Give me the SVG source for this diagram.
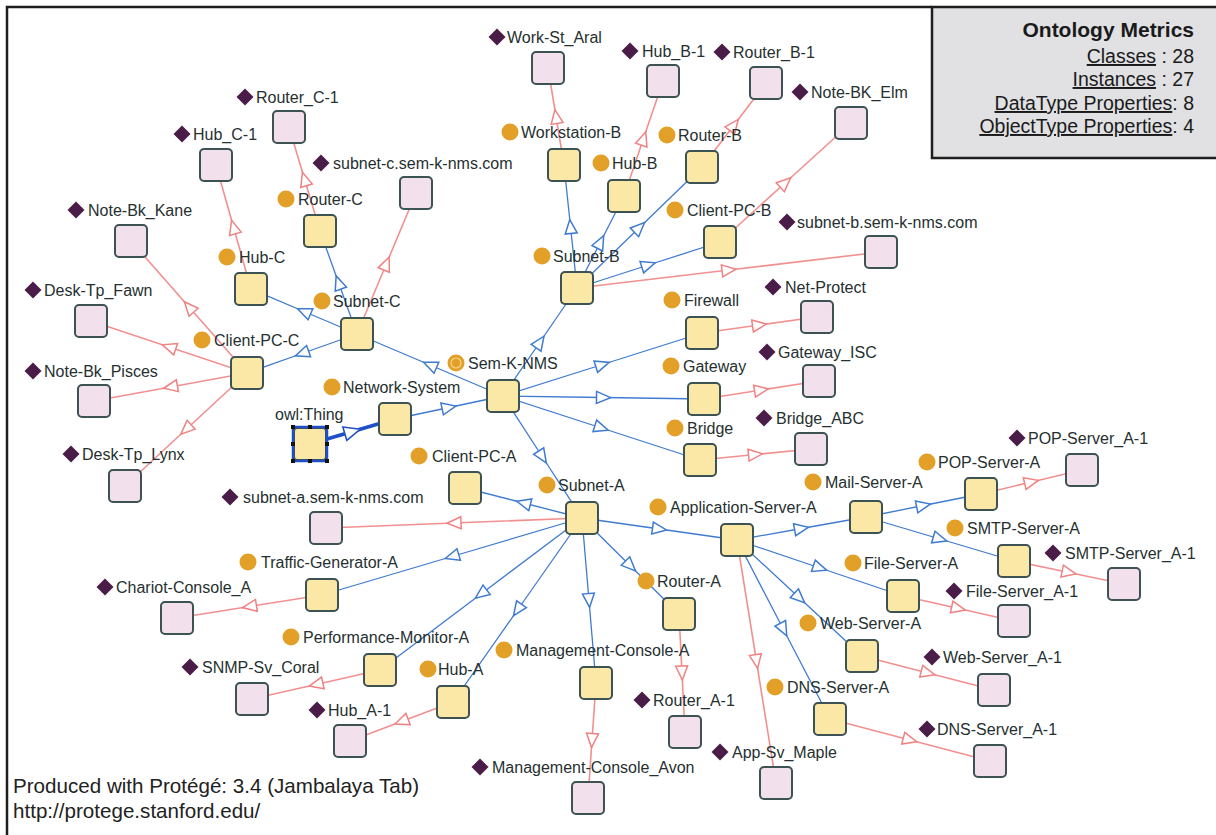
<svg xmlns="http://www.w3.org/2000/svg" xmlns:xlink="http://www.w3.org/1999/xlink" width="1216" height="835" viewBox="0 0 1216 835">
  <style>
    .lbl { font-family: "Liberation Sans", Arial, sans-serif; font-size: 16px; fill: #263030; }
    .foot { font-family: "Liberation Sans", Arial, sans-serif; font-size: 20.6px; fill: #222; }
    .met { font-family: "Liberation Sans", Arial, sans-serif; font-size: 19.5px; fill: #1a1a1a; text-anchor: end; }
    .met-h { font-family: "Liberation Sans", Arial, sans-serif; font-size: 21px; font-weight: bold; fill: #1a1a1a; text-anchor: end; }
    .u { text-decoration: underline; }
    .box-c { fill: #fbe7a6; stroke: #3d5252; stroke-width: 2; }
    .box-i { fill: #f2e0ec; stroke: #3d5252; stroke-width: 2; }
    .dot { fill: #e2a028; }
    .dia { fill: #4a1c48; }
    .sub { fill: none; stroke: #3f7bd0; stroke-width: 1.3; marker-mid: url(#tri-b); }
    .inst { fill: none; stroke: #f29090; stroke-width: 1.6; marker-mid: url(#tri-r); }
  </style>
  <defs>
    <marker id="tri-b" viewBox="-9 -8 18 16" markerWidth="18" markerHeight="16" markerUnits="userSpaceOnUse" orient="auto" refX="0" refY="0">
      <path d="M-7,-6 L7,0 L-7,6 Z" fill="#fff" stroke="#3f7bd0" stroke-width="1.5"/>
    </marker>
    <marker id="tri-r" viewBox="-9 -8 18 16" markerWidth="18" markerHeight="16" markerUnits="userSpaceOnUse" orient="auto" refX="0" refY="0">
      <path d="M-7,-6 L7,0 L-7,6 Z" fill="#fff" stroke="#f08282" stroke-width="1.5"/>
    </marker>
    <marker id="tri-sel" viewBox="-10 -9 20 18" markerWidth="20" markerHeight="18" markerUnits="userSpaceOnUse" orient="auto" refX="0" refY="0">
      <path d="M-8,-7 L8,0 L-8,7 Z" fill="#fff" stroke="#2050c8" stroke-width="1.6"/>
    </marker>
    <path id="dia" d="M-8.5,0 L0,-8.5 L8.5,0 L0,8.5 Z"/>
  </defs>

  <rect width="1216" height="835" fill="#fff"/>

  <!-- outer frame -->
  <path d="M7,835 L7,7 L932,7" fill="none" stroke="#1e1e1e" stroke-width="2.5"/>

  <!-- metrics panel -->
  <g id="metrics">
    <rect x="932" y="7" width="290" height="151" fill="#e1e1e3" stroke="#1e1e1e" stroke-width="2.5"/>
    <text class="met-h" x="1194" y="37">Ontology Metrics</text>
    <text class="met" x="1194" y="63"><tspan class="u">Classes</tspan> : 28</text>
    <text class="met" x="1194" y="86"><tspan class="u">Instances</tspan> : 27</text>
    <text class="met" x="1194" y="110"><tspan class="u">DataType Properties</tspan>: 8</text>
    <text class="met" x="1194" y="133"><tspan class="u">ObjectType Properties</tspan>: 4</text>
  </g>

  <g id="connectors">
    <!-- subclass links -->
    <path d="M310,444 L352.5,431.5 L395,419" fill="none" stroke="#2050c8" stroke-width="3.5" marker-mid="url(#tri-sel)"/>
    <path class="sub" d="M395,419 L449,407.5 L503,396"/>
    <path class="sub" d="M503,396 L430,365 L357,334"/>
    <path class="sub" d="M503,396 L540,342 L577,288"/>
    <path class="sub" d="M503,396 L542.5,457 L582,518"/>
    <path class="sub" d="M503,396 L602.5,364.5 L702,333"/>
    <path class="sub" d="M503,396 L603.5,397.5 L704,399"/>
    <path class="sub" d="M503,396 L601.5,428 L700,460"/>
    <path class="sub" d="M357,334 L302,353.5 L247,373"/>
    <path class="sub" d="M357,334 L304,311.5 L251,289"/>
    <path class="sub" d="M357,334 L338.5,282.5 L320,231"/>
    <path class="sub" d="M577,288 L570.5,226.5 L564,165"/>
    <path class="sub" d="M577,288 L600.5,242 L624,196"/>
    <path class="sub" d="M577,288 L639.5,227.5 L702,167"/>
    <path class="sub" d="M577,288 L648.5,265 L720,242"/>
    <path class="sub" d="M582,518 L523.5,503 L465,488"/>
    <path class="sub" d="M582,518 L659.5,529 L737,540"/>
    <path class="sub" d="M582,518 L630.5,566 L679,614"/>
    <path class="sub" d="M582,518 L589,600.5 L596,683"/>
    <path class="sub" d="M582,518 L517.5,610 L453,702"/>
    <path class="sub" d="M582,518 L481,594 L380,670"/>
    <path class="sub" d="M582,518 L452,556.5 L322,595"/>
    <path class="sub" d="M737,540 L801.5,528.5 L866,517"/>
    <path class="sub" d="M737,540 L820,568 L903,596"/>
    <path class="sub" d="M737,540 L799.5,598 L862,656"/>
    <path class="sub" d="M737,540 L783.5,629.5 L830,719"/>
    <path class="sub" d="M866,517 L923.5,505.5 L981,494"/>
    <path class="sub" d="M866,517 L940,539 L1014,561"/>
    <!-- instance links -->
    <path class="inst" d="M320,231 L304.5,179 L289,127"/>
    <path class="inst" d="M251,289 L233.5,227 L216,165"/>
    <path class="inst" d="M357,334 L386.5,263.5 L416,193"/>
    <path class="inst" d="M247,373 L189,307 L131,241"/>
    <path class="inst" d="M247,373 L169,347 L91,321"/>
    <path class="inst" d="M247,373 L170.5,387 L94,401"/>
    <path class="inst" d="M247,373 L186,429.5 L125,486"/>
    <path class="inst" d="M564,165 L556,116.5 L548,68"/>
    <path class="inst" d="M624,196 L643.5,138.5 L663,81"/>
    <path class="inst" d="M702,167 L734,125 L766,83"/>
    <path class="inst" d="M720,242 L785.5,182.5 L851,123"/>
    <path class="inst" d="M577,288 L729,270 L881,252"/>
    <path class="inst" d="M702,333 L759.5,325 L817,317"/>
    <path class="inst" d="M704,399 L761.5,390 L819,381"/>
    <path class="inst" d="M700,460 L755.5,454.5 L811,449"/>
    <path class="inst" d="M582,518 L454,523 L326,528"/>
    <path class="inst" d="M322,595 L249.5,606.5 L177,618"/>
    <path class="inst" d="M380,670 L316,684.5 L252,699"/>
    <path class="inst" d="M453,702 L401.5,721.5 L350,741"/>
    <path class="inst" d="M596,683 L592,740.5 L588,798"/>
    <path class="inst" d="M679,614 L682,673 L685,732"/>
    <path class="inst" d="M737,540 L756.5,661.5 L776,783"/>
    <path class="inst" d="M981,494 L1031.5,482 L1082,470"/>
    <path class="inst" d="M1014,561 L1069,572.5 L1124,584"/>
    <path class="inst" d="M903,596 L958.5,608.5 L1014,621"/>
    <path class="inst" d="M862,656 L928,673 L994,690"/>
    <path class="inst" d="M830,719 L910,740 L990,761"/>
  </g>

  <!-- class nodes -->
  <g id="owl-thing">
    <rect class="box-c" x="294" y="428" width="32" height="32" rx="3"/>
    <rect x="293" y="427" width="34" height="34" fill="none" stroke="#2050c8" stroke-width="2.5"/>
    <g fill="#111">
      <rect x="291" y="425" width="4" height="4"/><rect x="308" y="425" width="4" height="4"/><rect x="325" y="425" width="4" height="4"/>
      <rect x="291" y="442" width="4" height="4"/><rect x="325" y="442" width="4" height="4"/>
      <rect x="291" y="459" width="4" height="4"/><rect x="308" y="459" width="4" height="4"/><rect x="325" y="459" width="4" height="4"/>
    </g>
    <text class="lbl" x="275" y="420">owl:Thing</text>
  </g>
  <g id="network-system"><rect class="box-c" x="379" y="403" width="32" height="32" rx="4"/><circle class="dot" cx="332" cy="387" r="8.5"/><text class="lbl" x="343" y="393">Network-System</text></g>
  <g id="sem-k-nms"><rect class="box-c" x="487" y="380" width="32" height="32" rx="4"/><circle class="dot" cx="456" cy="363" r="8.5"/><circle cx="456" cy="363" r="5" fill="none" stroke="#f6d48e" stroke-width="1.2"/><text class="lbl" x="468" y="369">Sem-K-NMS</text></g>
  <g id="subnet-c"><rect class="box-c" x="341" y="318" width="32" height="32" rx="4"/><circle class="dot" cx="322" cy="301" r="8.5"/><text class="lbl" x="333" y="307">Subnet-C</text></g>
  <g id="subnet-b"><rect class="box-c" x="561" y="272" width="32" height="32" rx="4"/><circle class="dot" cx="542" cy="256" r="8.5"/><text class="lbl" x="553" y="262">Subnet-B</text></g>
  <g id="subnet-a"><rect class="box-c" x="566" y="502" width="32" height="32" rx="4"/><circle class="dot" cx="547" cy="485" r="8.5"/><text class="lbl" x="558" y="491">Subnet-A</text></g>
  <g id="client-pc-c"><rect class="box-c" x="231" y="357" width="32" height="32" rx="4"/><circle class="dot" cx="202" cy="340" r="8.5"/><text class="lbl" x="214" y="346">Client-PC-C</text></g>
  <g id="hub-c"><rect class="box-c" x="235" y="273" width="32" height="32" rx="4"/><circle class="dot" cx="227" cy="257" r="8.5"/><text class="lbl" x="239" y="263">Hub-C</text></g>
  <g id="router-c"><rect class="box-c" x="304" y="215" width="32" height="32" rx="4"/><circle class="dot" cx="286" cy="199" r="8.5"/><text class="lbl" x="298" y="205">Router-C</text></g>
  <g id="workstation-b"><rect class="box-c" x="548" y="149" width="32" height="32" rx="4"/><circle class="dot" cx="510" cy="132" r="8.5"/><text class="lbl" x="521" y="138">Workstation-B</text></g>
  <g id="hub-b"><rect class="box-c" x="608" y="180" width="32" height="32" rx="4"/><circle class="dot" cx="601" cy="163" r="8.5"/><text class="lbl" x="612" y="169">Hub-B</text></g>
  <g id="router-b"><rect class="box-c" x="686" y="151" width="32" height="32" rx="4"/><circle class="dot" cx="667" cy="135" r="8.5"/><text class="lbl" x="678" y="141">Router-B</text></g>
  <g id="client-pc-b"><rect class="box-c" x="704" y="226" width="32" height="32" rx="4"/><circle class="dot" cx="675" cy="210" r="8.5"/><text class="lbl" x="687" y="216">Client-PC-B</text></g>
  <g id="firewall"><rect class="box-c" x="686" y="317" width="32" height="32" rx="4"/><circle class="dot" cx="672" cy="300" r="8.5"/><text class="lbl" x="684" y="306">Firewall</text></g>
  <g id="gateway"><rect class="box-c" x="688" y="383" width="32" height="32" rx="4"/><circle class="dot" cx="671" cy="366" r="8.5"/><text class="lbl" x="683" y="372">Gateway</text></g>
  <g id="bridge"><rect class="box-c" x="684" y="444" width="32" height="32" rx="4"/><circle class="dot" cx="675" cy="428" r="8.5"/><text class="lbl" x="687" y="434">Bridge</text></g>
  <g id="client-pc-a"><rect class="box-c" x="449" y="472" width="32" height="32" rx="4"/><circle class="dot" cx="419" cy="456" r="8.5"/><text class="lbl" x="432" y="462">Client-PC-A</text></g>
  <g id="application-server-a"><rect class="box-c" x="721" y="524" width="32" height="32" rx="4"/><circle class="dot" cx="658" cy="507" r="8.5"/><text class="lbl" x="670" y="513">Application-Server-A</text></g>
  <g id="mail-server-a"><rect class="box-c" x="850" y="501" width="32" height="32" rx="4"/><circle class="dot" cx="813" cy="482" r="8.5"/><text class="lbl" x="825" y="488">Mail-Server-A</text></g>
  <g id="pop-server-a"><rect class="box-c" x="965" y="478" width="32" height="32" rx="4"/><circle class="dot" cx="927" cy="462" r="8.5"/><text class="lbl" x="938" y="468">POP-Server-A</text></g>
  <g id="smtp-server-a"><rect class="box-c" x="998" y="545" width="32" height="32" rx="4"/><circle class="dot" cx="955" cy="528" r="8.5"/><text class="lbl" x="967" y="534">SMTP-Server-A</text></g>
  <g id="file-server-a"><rect class="box-c" x="887" y="580" width="32" height="32" rx="4"/><circle class="dot" cx="853" cy="563" r="8.5"/><text class="lbl" x="864" y="569">File-Server-A</text></g>
  <g id="web-server-a"><rect class="box-c" x="846" y="640" width="32" height="32" rx="4"/><circle class="dot" cx="808" cy="623" r="8.5"/><text class="lbl" x="820" y="629">Web-Server-A</text></g>
  <g id="dns-server-a"><rect class="box-c" x="814" y="703" width="32" height="32" rx="4"/><circle class="dot" cx="775" cy="687" r="8.5"/><text class="lbl" x="787" y="693">DNS-Server-A</text></g>
  <g id="router-a"><rect class="box-c" x="663" y="598" width="32" height="32" rx="4"/><circle class="dot" cx="646" cy="581" r="8.5"/><text class="lbl" x="657" y="587">Router-A</text></g>
  <g id="management-console-a"><rect class="box-c" x="580" y="667" width="32" height="32" rx="4"/><circle class="dot" cx="504" cy="650" r="8.5"/><text class="lbl" x="516" y="656">Management-Console-A</text></g>
  <g id="hub-a"><rect class="box-c" x="437" y="686" width="32" height="32" rx="4"/><circle class="dot" cx="428" cy="669" r="8.5"/><text class="lbl" x="438" y="675">Hub-A</text></g>
  <g id="performance-monitor-a"><rect class="box-c" x="364" y="654" width="32" height="32" rx="4"/><circle class="dot" cx="291" cy="637" r="8.5"/><text class="lbl" x="303" y="643">Performance-Monitor-A</text></g>
  <g id="traffic-generator-a"><rect class="box-c" x="306" y="579" width="32" height="32" rx="4"/><circle class="dot" cx="248" cy="562" r="8.5"/><text class="lbl" x="261" y="568">Traffic-Generator-A</text></g>

  <!-- instance nodes -->
  <g id="router_c-1"><rect class="box-i" x="273" y="111" width="32" height="32" rx="4"/><use href="#dia" class="dia" x="245" y="97"/><text class="lbl" x="256" y="103">Router_C-1</text></g>
  <g id="hub_c-1"><rect class="box-i" x="200" y="149" width="32" height="32" rx="4"/><use href="#dia" class="dia" x="182" y="134"/><text class="lbl" x="193" y="140">Hub_C-1</text></g>
  <g id="subnet-c-host"><rect class="box-i" x="400" y="177" width="32" height="32" rx="4"/><use href="#dia" class="dia" x="321" y="163"/><text class="lbl" x="333" y="169">subnet-c.sem-k-nms.com</text></g>
  <g id="note-bk_kane"><rect class="box-i" x="115" y="225" width="32" height="32" rx="4"/><use href="#dia" class="dia" x="76" y="210"/><text class="lbl" x="88" y="216">Note-Bk_Kane</text></g>
  <g id="desk-tp_fawn"><rect class="box-i" x="75" y="305" width="32" height="32" rx="4"/><use href="#dia" class="dia" x="33" y="290"/><text class="lbl" x="44" y="296">Desk-Tp_Fawn</text></g>
  <g id="note-bk_pisces"><rect class="box-i" x="78" y="385" width="32" height="32" rx="4"/><use href="#dia" class="dia" x="33" y="371"/><text class="lbl" x="44" y="377">Note-Bk_Pisces</text></g>
  <g id="desk-tp_lynx"><rect class="box-i" x="109" y="470" width="32" height="32" rx="4"/><use href="#dia" class="dia" x="71" y="454"/><text class="lbl" x="82" y="460">Desk-Tp_Lynx</text></g>
  <g id="work-st_aral"><rect class="box-i" x="532" y="52" width="32" height="32" rx="4"/><use href="#dia" class="dia" x="497" y="37"/><text class="lbl" x="507" y="43">Work-St_Aral</text></g>
  <g id="hub_b-1"><rect class="box-i" x="647" y="65" width="32" height="32" rx="4"/><use href="#dia" class="dia" x="630" y="51"/><text class="lbl" x="642" y="57">Hub_B-1</text></g>
  <g id="router_b-1"><rect class="box-i" x="750" y="67" width="32" height="32" rx="4"/><use href="#dia" class="dia" x="722" y="52"/><text class="lbl" x="733" y="58">Router_B-1</text></g>
  <g id="note-bk_elm"><rect class="box-i" x="835" y="107" width="32" height="32" rx="4"/><use href="#dia" class="dia" x="800" y="92"/><text class="lbl" x="811" y="98">Note-BK_Elm</text></g>
  <g id="subnet-b-host"><rect class="box-i" x="865" y="236" width="32" height="32" rx="4"/><use href="#dia" class="dia" x="787" y="222"/><text class="lbl" x="797" y="228">subnet-b.sem-k-nms.com</text></g>
  <g id="net-protect"><rect class="box-i" x="801" y="301" width="32" height="32" rx="4"/><use href="#dia" class="dia" x="773" y="287"/><text class="lbl" x="785" y="293">Net-Protect</text></g>
  <g id="gateway_isc"><rect class="box-i" x="803" y="365" width="32" height="32" rx="4"/><use href="#dia" class="dia" x="767" y="352"/><text class="lbl" x="778" y="358">Gateway_ISC</text></g>
  <g id="bridge_abc"><rect class="box-i" x="795" y="433" width="32" height="32" rx="4"/><use href="#dia" class="dia" x="764" y="418"/><text class="lbl" x="776" y="424">Bridge_ABC</text></g>
  <g id="pop-server_a-1"><rect class="box-i" x="1066" y="454" width="32" height="32" rx="4"/><use href="#dia" class="dia" x="1017" y="438"/><text class="lbl" x="1028" y="444">POP-Server_A-1</text></g>
  <g id="smtp-server_a-1"><rect class="box-i" x="1108" y="568" width="32" height="32" rx="4"/><use href="#dia" class="dia" x="1053" y="553"/><text class="lbl" x="1065" y="559">SMTP-Server_A-1</text></g>
  <g id="file-server_a-1"><rect class="box-i" x="998" y="605" width="32" height="32" rx="4"/><use href="#dia" class="dia" x="954" y="591"/><text class="lbl" x="966" y="597">File-Server_A-1</text></g>
  <g id="web-server_a-1"><rect class="box-i" x="978" y="674" width="32" height="32" rx="4"/><use href="#dia" class="dia" x="932" y="657"/><text class="lbl" x="943" y="663">Web-Server_A-1</text></g>
  <g id="dns-server_a-1"><rect class="box-i" x="974" y="745" width="32" height="32" rx="4"/><use href="#dia" class="dia" x="927" y="729"/><text class="lbl" x="937" y="735">DNS-Server_A-1</text></g>
  <g id="app-sv_maple"><rect class="box-i" x="760" y="767" width="32" height="32" rx="4"/><use href="#dia" class="dia" x="720" y="752"/><text class="lbl" x="732" y="758">App-Sv_Maple</text></g>
  <g id="router_a-1"><rect class="box-i" x="669" y="716" width="32" height="32" rx="4"/><use href="#dia" class="dia" x="642" y="700"/><text class="lbl" x="653" y="706">Router_A-1</text></g>
  <g id="management-console_avon"><rect class="box-i" x="572" y="782" width="32" height="32" rx="4"/><use href="#dia" class="dia" x="480" y="767"/><text class="lbl" x="492" y="773">Management-Console_Avon</text></g>
  <g id="hub_a-1"><rect class="box-i" x="334" y="725" width="32" height="32" rx="4"/><use href="#dia" class="dia" x="317" y="710"/><text class="lbl" x="328" y="716">Hub_A-1</text></g>
  <g id="snmp-sv_coral"><rect class="box-i" x="236" y="683" width="32" height="32" rx="4"/><use href="#dia" class="dia" x="190" y="667"/><text class="lbl" x="202" y="673">SNMP-Sv_Coral</text></g>
  <g id="chariot-console_a"><rect class="box-i" x="161" y="602" width="32" height="32" rx="4"/><use href="#dia" class="dia" x="105" y="587"/><text class="lbl" x="116" y="593">Chariot-Console_A</text></g>
  <g id="subnet-a-host"><rect class="box-i" x="310" y="512" width="32" height="32" rx="4"/><use href="#dia" class="dia" x="230" y="497"/><text class="lbl" x="243" y="503">subnet-a.sem-k-nms.com</text></g>

  <!-- footer -->
  <text class="foot" x="13" y="793">Produced with Protégé: 3.4 (Jambalaya Tab)</text>
  <text class="foot" x="13" y="818">http://protege.stanford.edu/</text>
</svg>
